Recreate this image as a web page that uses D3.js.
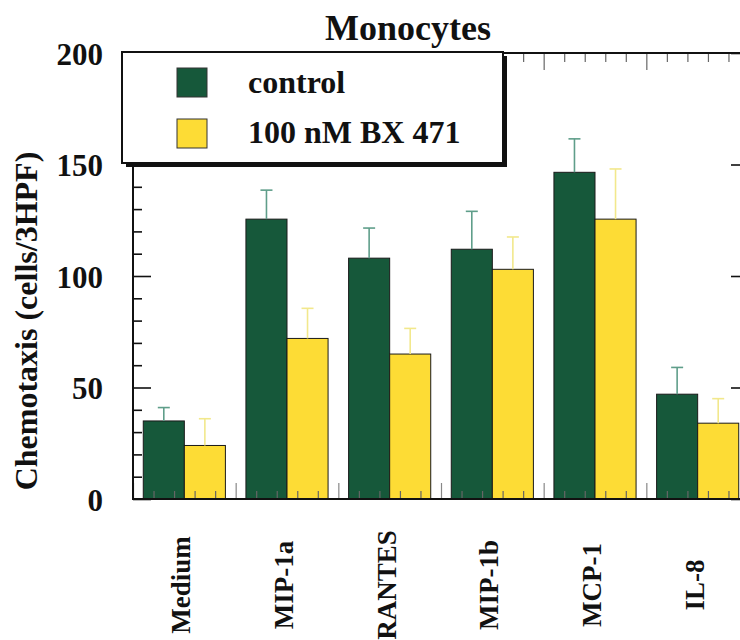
<!DOCTYPE html>
<html>
<head>
<meta charset="utf-8">
<script src="https://cdn.jsdelivr.net/npm/d3@7"></script>
<style>
  html, body { margin: 0; padding: 0; background: #fff; }
  svg { display: block; }
  text { font-family: "Liberation Serif", "Times New Roman", serif; font-weight: bold; fill: #111; }
</style>
</head>
<body>
<svg id="chart" width="740" height="640"></svg>
<script>
// ---- data ----
const categories = ["Medium", "MIP-1a", "RANTES", "MIP-1b", "MCP-1", "IL-8"];
const seriesNames = ["control", "100 nM BX 471"];
const controlValues = [35, 125.5, 108, 112, 146.5, 47];
const controlErrors = [6, 13, 13.5, 17, 15, 12];
const bx471Values = [24, 72, 65, 103, 125.5, 34];
const bx471Errors = [12, 13.5, 11.5, 14.5, 22.5, 11];
const yTickLabels = [0, 50, 100, 150, 200];
const titleText = "Monocytes";
const yAxisTitle = "Chemotaxis (cells/3HPF)";

const colors = { "control": "#16583a", "100 nM BX 471": "#fddc35" };
const errColors = { "control": "#5f9e8a", "100 nM BX 471": "#f2e88c" };

const series = [
  { name: seriesNames[0], values: controlValues, errors: controlErrors },
  { name: seriesNames[1], values: bx471Values, errors: bx471Errors }
];

(function draw() {
// ---- layout ----
const svg = d3.select("#chart");
const pLeft = 133, pRight = 749, pTop = 53, pBottom = 499;

const y = d3.scaleLinear().domain([0, 200]).range([pBottom, pTop]);
const x = d3.scaleBand().domain(categories).range([pLeft, pRight])
  .paddingInner(0.2).paddingOuter(0.1);
const xs = d3.scaleBand().domain(seriesNames).range([0, x.bandwidth()]);
const xl = d3.scaleLinear().domain([0, categories.length]).range([pLeft, pRight]);

// ---- bars ----
const groups = svg.append("g").selectAll("g")
  .data(series).join("g");

groups.selectAll("rect")
  .data(s => s.values.map((v, i) => ({ name: s.name, cat: categories[i], v, e: s.errors[i] })))
  .join("rect")
  .attr("x", d => x(d.cat) + xs(d.name))
  .attr("y", d => y(d.v))
  .attr("width", xs.bandwidth())
  .attr("height", d => y(0) - y(d.v))
  .attr("fill", d => colors[d.name])
  .attr("stroke", "#1a1a1a")
  .attr("stroke-width", 1);

// ---- error bars (upward only) ----
const errG = svg.append("g");
series.forEach(s => {
  s.values.forEach((v, i) => {
    const cx = x(categories[i]) + xs(s.name) + xs.bandwidth() / 2;
    errG.append("line")
      .attr("x1", cx).attr("x2", cx)
      .attr("y1", y(v)).attr("y2", y(v + s.errors[i]))
      .attr("stroke", errColors[s.name]).attr("stroke-width", 1.6);
    errG.append("line")
      .attr("x1", cx - 6).attr("x2", cx + 6)
      .attr("y1", y(v + s.errors[i])).attr("y2", y(v + s.errors[i]))
      .attr("stroke", errColors[s.name]).attr("stroke-width", 1.6);
  });
});

// ---- axes ticks ----
function styleTicks(g, color, width) {
  g.select(".domain").remove();
  g.selectAll(".tick line").attr("stroke", color).attr("stroke-width", width);
  g.selectAll(".tick text").remove();
}
const minorY = d3.range(0, 201, 10).filter(v => v % 50 !== 0);
const majorY = d3.range(0, 201, 50);

svg.append("g").attr("transform", `translate(${pLeft},0)`)
  .call(d3.axisRight(y).tickValues(minorY).tickSize(9)).call(g => styleTicks(g, "#111", 1.6));
svg.append("g").attr("transform", `translate(${pLeft},0)`)
  .call(d3.axisRight(y).tickValues(majorY).tickSize(18)).call(g => styleTicks(g, "#111", 1.6));
svg.append("g").attr("transform", `translate(${pRight},0)`)
  .call(d3.axisLeft(y).tickValues(minorY).tickSize(9)).call(g => styleTicks(g, "#111", 1.6));
svg.append("g").attr("transform", `translate(${pRight},0)`)
  .call(d3.axisLeft(y).tickValues(majorY).tickSize(18)).call(g => styleTicks(g, "#111", 1.6));

const minorX = d3.range(0, categories.length * 5 + 1).map(k => k / 5).filter(v => Math.abs(v - Math.round(v)) > 1e-6);
const majorX = d3.range(0, categories.length + 1);
svg.append("g").attr("transform", `translate(0,${pTop})`)
  .call(d3.axisBottom(xl).tickValues(minorX).tickSize(9)).call(g => styleTicks(g, "#666", 1.2));
svg.append("g").attr("transform", `translate(0,${pTop})`)
  .call(d3.axisBottom(xl).tickValues(majorX).tickSize(17)).call(g => styleTicks(g, "#666", 1.2));
svg.append("g").attr("transform", `translate(0,${pBottom})`)
  .call(d3.axisTop(xl).tickValues(minorX).tickSize(8)).call(g => styleTicks(g, "#666", 1.2));
svg.append("g").attr("transform", `translate(0,${pBottom})`)
  .call(d3.axisTop(xl).tickValues(majorX).tickSize(16)).call(g => styleTicks(g, "#888", 1.2));

// frame
svg.append("rect").attr("x", pLeft).attr("y", pTop)
  .attr("width", pRight - pLeft).attr("height", pBottom - pTop)
  .attr("fill", "none").attr("stroke", "#111").attr("stroke-width", 2);

// y tick labels
const yLab = svg.append("g").attr("transform", `translate(${pLeft},0)`)
  .call(d3.axisLeft(y).tickValues(yTickLabels).tickSize(0).tickPadding(30));
yLab.select(".domain").remove();
yLab.selectAll(".tick text")
  .style("font-family", '"Liberation Serif", "Times New Roman", serif')
  .style("font-weight", "bold").style("font-size", "31px").attr("fill", "#111")
  .attr("dy", "0.36em");

// x tick labels (rotated)
const xLab = svg.append("g").attr("transform", `translate(0,585)`)
  .call(d3.axisBottom(x).tickSize(0).tickPadding(0));
xLab.select(".domain").remove();
xLab.selectAll(".tick text")
  .attr("transform", "rotate(-90)")
  .attr("x", 0).attr("y", 0).attr("dy", "0.22em")
  .attr("text-anchor", "middle")
  .style("font-family", '"Liberation Serif", "Times New Roman", serif')
  .style("font-weight", "bold").style("font-size", "27px").attr("fill", "#111");

// y axis title
svg.append("text")
  .attr("transform", "translate(37,321) rotate(-90)")
  .attr("text-anchor", "middle")
  .style("font-size", "32px")
  .text(yAxisTitle);

// title
svg.append("text")
  .attr("x", 408).attr("y", 40)
  .attr("text-anchor", "middle")
  .style("font-size", "36px")
  .text(titleText);

// ---- legend ----
const lg = svg.append("g");
lg.append("rect").attr("x", 126).attr("y", 56).attr("width", 381).attr("height", 111).attr("fill", "#111");
lg.append("rect").attr("x", 122).attr("y", 52).attr("width", 381).attr("height", 111)
  .attr("fill", "#fff").attr("stroke", "#111").attr("stroke-width", 2);
seriesNames.forEach((n, i) => {
  lg.append("rect").attr("x", 177).attr("y", 68 + i * 51).attr("width", 30).attr("height", 29)
    .attr("fill", colors[n]).attr("stroke", "#333").attr("stroke-width", 1);
  lg.append("text").attr("x", 248).attr("y", 93 + i * 50)
    .style("font-size", "32px").text(n);
});
})();
</script>
</body>
</html>
